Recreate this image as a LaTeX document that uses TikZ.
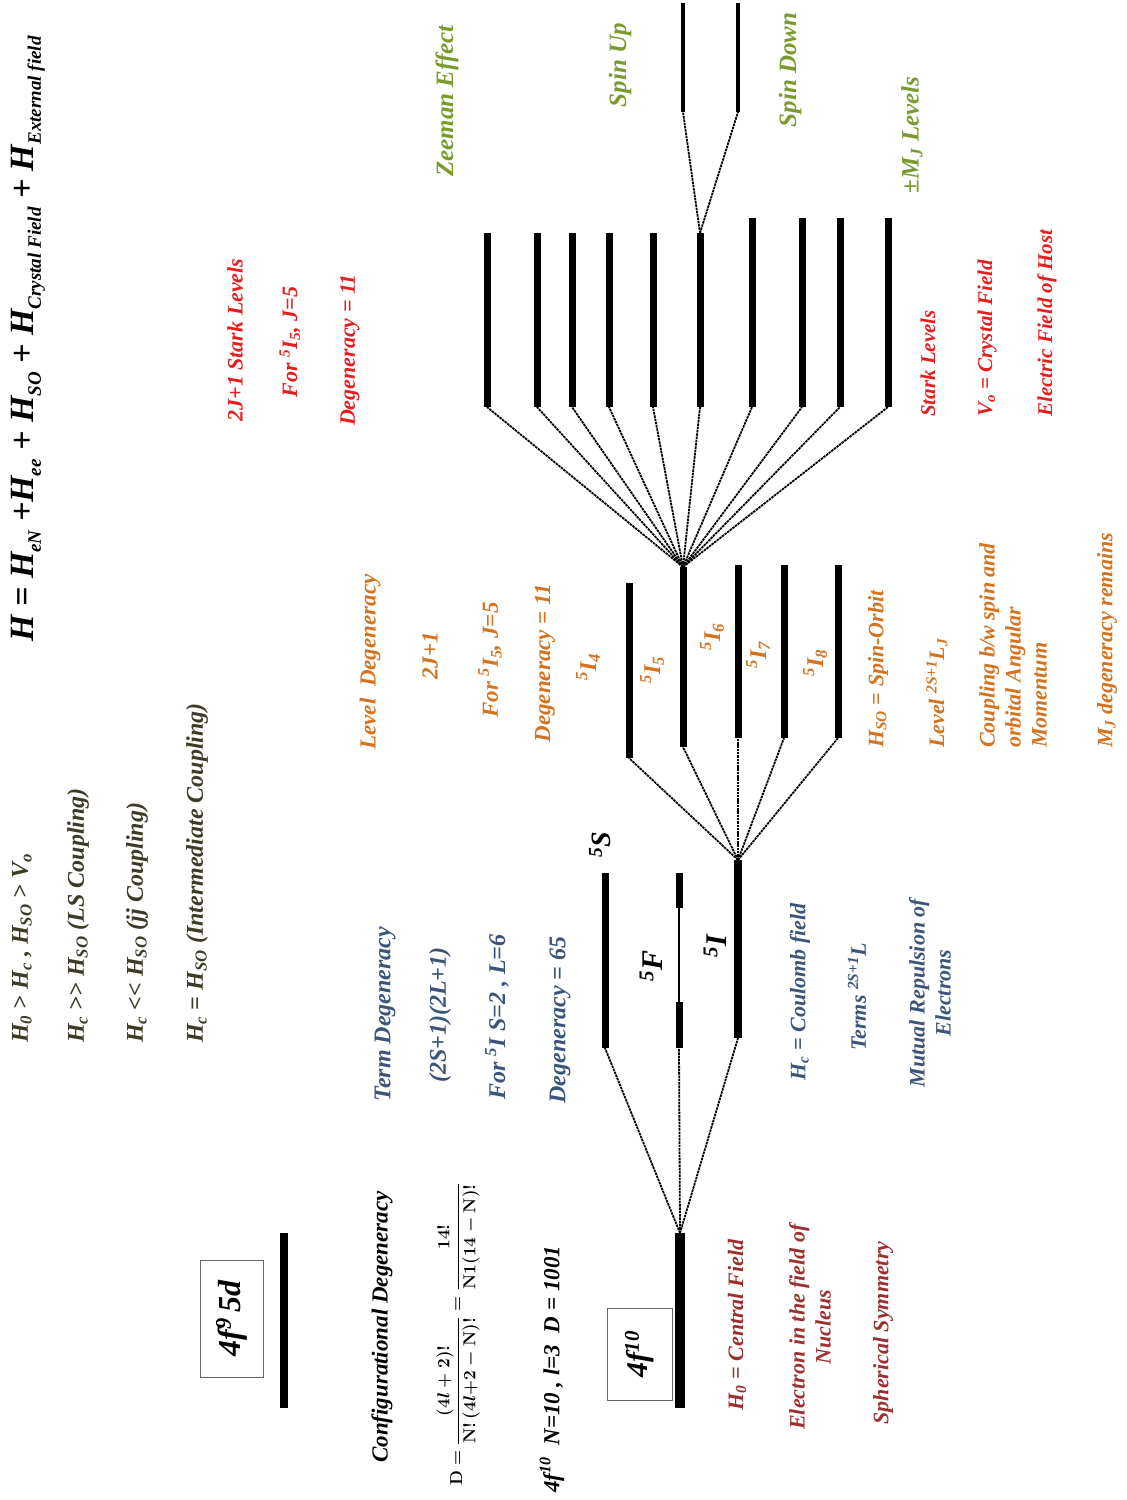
\documentclass[tikz,border=0pt]{standalone}
\usepackage{fontspec}
\setmainfont{Liberation Serif}
\newcommand{\mysb}[1]{\textsubscript{#1}}
\newcommand{\mysp}[1]{\textsuperscript{#1}}
\newcommand{\tsb}[1]{\raisebox{-0.22em}{\fontsize{19}{19}\selectfont #1}}
\definecolor{cOl}{HTML}{3D3A28}
\definecolor{cBl}{HTML}{3B5478}
\definecolor{cMa}{HTML}{9C2F2F}
\definecolor{cOr}{HTML}{D4731F}
\definecolor{cRd}{HTML}{E41E1E}
\definecolor{cGr}{HTML}{7B9A2D}
\begin{document}
\begin{tikzpicture}[x=1pt,y=-1pt,
  t/.style={rotate=90, inner sep=0pt, font=\bfseries\itshape\fontsize{22}{26}\selectfont},
  tl/.style={t, anchor=west, align=left},
  tc/.style={t, align=center},
  bar/.style={line width=7pt},
  fan/.style={line width=1.8pt, dash pattern=on 2.5pt off 0.8pt},
  boxn/.style={draw=black!60, line width=0.8pt, rotate=90, inner sep=0pt}]
\useasboundingbox (0,0) rectangle (1127,1500);

% ---- title
\node[tl, font=\bfseries\itshape\fontsize{34}{38}\selectfont] (title) at (28,642)
  {H = H\tsb{eN} +H\tsb{ee} + H\tsb{SO} + H\tsb{Crystal Field} + H\tsb{External field}};

% ---- left column
\node[tl, text=cOl, font=\bfseries\itshape\fontsize{24}{28}\selectfont] (c1) at (22,1043) {H\mysb{0} > H\mysb{c} , H\mysb{SO} > V\mysb{o}};
\node[tl, text=cOl, font=\bfseries\itshape\fontsize{24}{28}\selectfont] (c2) at (78,1043) {H\mysb{c} >{}> H\mysb{SO} (LS Coupling)};
\node[tl, text=cOl, font=\bfseries\itshape\fontsize{24}{28}\selectfont] (c3) at (137,1043) {H\mysb{c} <{}< H\mysb{SO}  (jj Coupling)};
\node[tl, text=cOl, font=\bfseries\itshape\fontsize{24}{28}\selectfont] (c4) at (197,1043) {H\mysb{c} = H\mysb{SO} (Intermediate  Coupling)};

% ---- configurations
\node[boxn, minimum width=117pt, minimum height=63pt, font=\bfseries\itshape\fontsize{32}{36}\selectfont] (box9) at (231.5,1318.5) {4f\mysp{9}\,5d};
\node[boxn, minimum width=92pt, minimum height=65pt, font=\bfseries\itshape\fontsize{30}{34}\selectfont] (box10) at (639.5,1354) {4f\mysp{10}};

\coordinate (b9b) at (284,1408); \coordinate (b9t) at (284,1233);
\draw[line width=8pt] (b9b) -- (b9t);
\coordinate (gsb) at (680,1408); \coordinate (gst) at (680,1233);

\node[tl, font=\bfseries\itshape\fontsize{23}{27}\selectfont] (cd) at (382,1463) {Configurational Degeneracy};
\node[t, anchor=west, font=\fontsize{18}{22}\selectfont\boldmath] (form) at (458,1486)
  {$\displaystyle\mathbf{D}=\frac{(\mathbf{4}l+\mathbf{2})!}{\mathbf{N!\,(4}l\mathbf{+2-N)!}}=\frac{\mathbf{14!}}{\mathbf{N1(14-N)!}}$};
\node[tl, font=\bfseries\itshape\fontsize{23}{27}\selectfont] (cfg) at (552,1493) {4f\mysp{10}\ \ N=10 , l=3\ \ D = 1001};

% ---- maroon text
\node[tc, text=cMa] (m1) at (737,1325) {H\mysb{0} = Central Field};
\node[tc, text=cMa] (m2) at (810,1327) {Electron in the field of\\Nucleus};
\node[tc, text=cMa] (m3) at (883,1333) {Spherical Symmetry};

% ---- terms
\coordinate (Sb) at (605,1048); \coordinate (St) at (605,873);
\coordinate (Fb) at (679,1048); \coordinate (Fm1) at (679,1002); \coordinate (Fm2) at (679,908); \coordinate (Ft) at (679,873);
\coordinate (Ib) at (738,1038); \coordinate (It) at (738,860);

\draw[fan] (gst) -- (Sb);
\draw[fan] (gst) -- (Fb);
\draw[fan] (gst) -- (Ib);
\draw[line width=10pt] (gsb) -- (gst);
\draw[bar] (Sb) -- (St);
\draw[bar] (Fb) -- (Fm1);
\draw[line width=1.5pt] (Fm1) -- (Fm2);
\draw[bar] (Fm2) -- (Ft);
\draw[line width=8pt] (Ib) -- (It);

\node[t, font=\bfseries\itshape\fontsize{28}{32}\selectfont] (lS) at (600,845) {\mysp{5}S};
\node[t, font=\bfseries\itshape\fontsize{30}{34}\selectfont] (lF) at (651,966) {\mysp{5}F};
\node[t, font=\bfseries\itshape\fontsize{30}{34}\selectfont] (lI) at (715,946) {\mysp{5}I};

% ---- blue text
\node[tc, text=cBl, font=\bfseries\itshape\fontsize{24}{28}\selectfont] (u1) at (385,1014) {Term Degeneracy};
\node[tc, text=cBl, font=\bfseries\itshape\fontsize{24}{28}\selectfont] (u2) at (440,1015) {(2S+1)(2L+1)};
\node[tc, text=cBl, font=\bfseries\itshape\fontsize{24}{28}\selectfont] (u3) at (497,1017) {For \mysp{5}I S=2 , L=6};
\node[tc, text=cBl, font=\bfseries\itshape\fontsize{24}{28}\selectfont] (u4) at (560,1020) {Degeneracy = 65};
\node[tc, text=cBl] (d1) at (800,992) {H\mysb{c} = Coulomb field};
\node[tc, text=cBl] (d2) at (857,997) {Terms \mysp{2S+1}L};
\node[tc, text=cBl] (d3) at (930,993) {Mutual Repulsion of\\Electrons};

% ---- J levels
\coordinate (J4b) at (629,758); \coordinate (J4t) at (629,583);
\coordinate (J5b) at (683,747); \coordinate (J5t) at (683,567);
\coordinate (J6b) at (738,738); \coordinate (J6t) at (738,565);
\coordinate (J7b) at (784,738); \coordinate (J7t) at (784,565);
\coordinate (J8b) at (838,738); \coordinate (J8t) at (838,565);
\foreach \j in {4,...,8} {
  \draw[fan] (It) -- (J\j b);
}

% ---- Stark levels
\foreach \xx/\yt [count=\i] in {487/233,537/233,572/233,609/233,653/233,700/233,752/218,802/218,840/218,888/218} {
  \coordinate (sk\i b) at (\xx,407);
  \coordinate (sk\i t) at (\xx,\yt);
  \draw[fan] (J5t) -- (sk\i b);
  \draw[bar] (sk\i b) -- (sk\i t);
}
\foreach \j in {4,...,8} {
  \draw[bar] (J\j b) -- (J\j t);
}

% ---- Zeeman
\coordinate (upb) at (683,112); \coordinate (upt) at (683,3);
\coordinate (dnb) at (738,112); \coordinate (dnt) at (738,3);
\draw[fan] (sk6t) -- (upb);
\draw[fan] (sk6t) -- (dnb);
\draw[line width=4pt] (upb) -- (upt);
\draw[line width=4pt] (dnb) -- (dnt);

% ---- orange text
\node[tc, text=cOr, font=\bfseries\itshape\fontsize{23}{27}\selectfont] (o1) at (370,662) {Level\ \ Degeneracy};
\node[tc, text=cOr, font=\bfseries\itshape\fontsize{23}{27}\selectfont] (o2) at (430,656) {2J+1};
\node[tc, text=cOr, font=\bfseries\itshape\fontsize{23}{27}\selectfont] (o3) at (490,660) {For \mysp{5}I\mysb{5}, J=5};
\node[tc, text=cOr, font=\bfseries\itshape\fontsize{23}{27}\selectfont] (o4) at (545,663) {Degeneracy = 11};
\node[tc, text=cOr, font=\bfseries\itshape\fontsize{24}{28}\selectfont] (l4) at (588,667) {\mysp{5}I\mysb{4}};
\node[tc, text=cOr, font=\bfseries\itshape\fontsize{24}{28}\selectfont] (l5) at (652,670) {\mysp{5}I\mysb{5}};
\node[tc, text=cOr, font=\bfseries\itshape\fontsize{24}{28}\selectfont] (l6) at (712,637) {\mysp{5}I\mysb{6}};
\node[tc, text=cOr, font=\bfseries\itshape\fontsize{24}{28}\selectfont] (l7) at (758,655) {\mysp{5}I\mysb{7}};
\node[tc, text=cOr, font=\bfseries\itshape\fontsize{24}{28}\selectfont] (l8) at (815,663) {\mysp{5}I\mysb{8}};
\node[tl, text=cOr] (o5) at (878,748) {H\mysb{SO} = Spin-Orbit};
\node[tl, text=cOr] (o6) at (937,748) {Level \mysp{2S+1}L\mysb{J}};
\node[tl, text=cOr] (o7) at (1013,748) {Coupling b/w spin and\\orbital Angular\\Momentum};
\node[tl, text=cOr] (o8) at (1107,748) {M\mysb{J} degeneracy remains};

% ---- red text
\node[tc, text=cRd] (r1) at (235,340) {2J+1 Stark Levels};
\node[tc, text=cRd] (r2) at (290,342) {For \mysp{5}I\mysb{5}, J=5};
\node[tc, text=cRd] (r3) at (350,350) {Degeneracy = 11};
\node[tl, text=cRd, font=\bfseries\itshape\fontsize{21}{25}\selectfont] (r4) at (928,417) {Stark Levels};
\node[tl, text=cRd, font=\bfseries\itshape\fontsize{21}{25}\selectfont] (r5) at (987,417) {V\mysb{o} = Crystal Field};
\node[tl, text=cRd, font=\bfseries\itshape\fontsize{21}{25}\selectfont] (r6) at (1047,417) {Electric Field of Host};

% ---- green text
\node[tc, text=cGr, font=\bfseries\itshape\fontsize{25}{29}\selectfont] (g1) at (447,101) {Zeeman Effect};
\node[tc, text=cGr, font=\bfseries\itshape\fontsize{25}{29}\selectfont] (g2) at (620,65) {Spin Up};
\node[tc, text=cGr, font=\bfseries\itshape\fontsize{25}{29}\selectfont] (g3) at (790,70) {Spin Down};
\node[tc, text=cGr, font=\bfseries\itshape\fontsize{25}{29}\selectfont] (g4) at (912,135) {±M\mysb{J} Levels};
\end{tikzpicture}
\end{document}
